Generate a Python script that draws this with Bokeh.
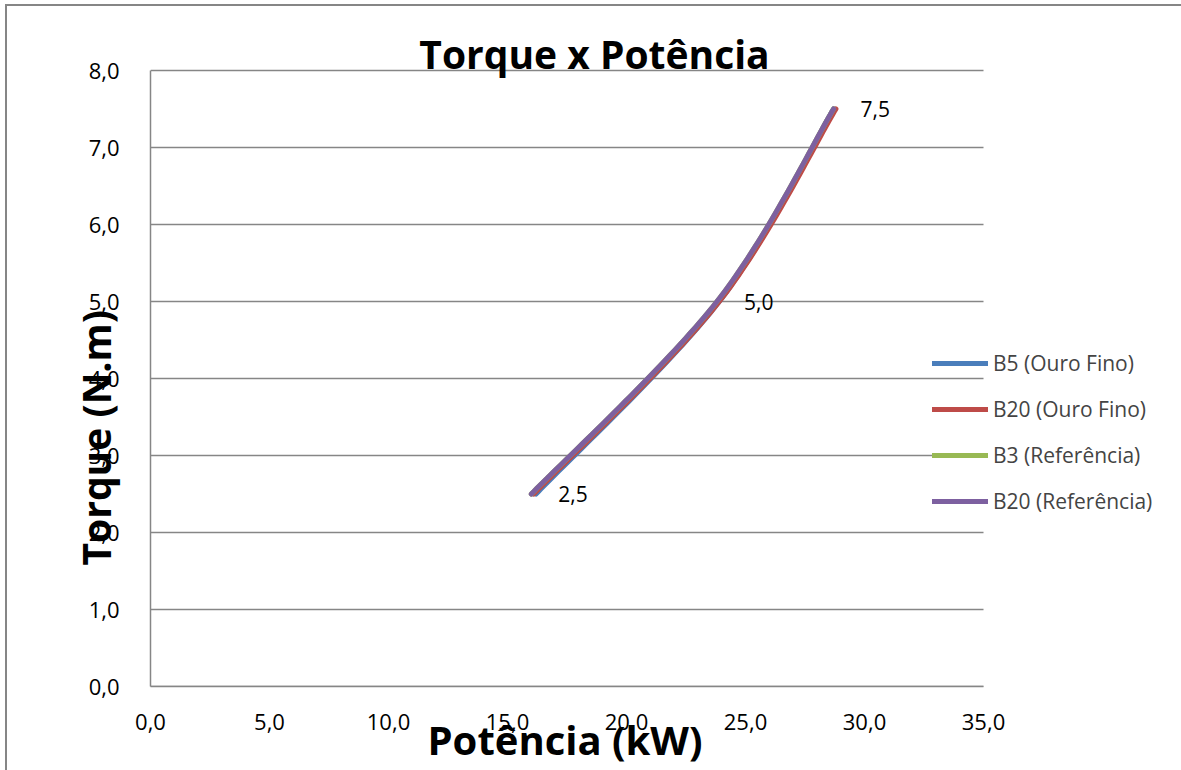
import numpy as np
from bokeh.plotting import figure
from bokeh.models import (ColumnDataSource, Legend, LegendItem, Label, Title,
                          CustomJSTickFormatter, FixedTicker)
from bokeh.core.properties import value
from bokeh.embed import file_html
from bokeh.resources import INLINE

# ---- data ----
torque = [2.5, 5.0, 7.5]
b5_ouro_fino = [16.2, 23.9, 28.7]
b20_ouro_fino = [16.1, 23.9, 28.8]
b3_referencia = [16.0, 23.8, 28.7]
b20_referencia = [16.0, 23.8, 28.7]
series_names = ["B5 (Ouro Fino)", "B20 (Ouro Fino)", "B3 (Referência)", "B20 (Referência)"]
series_colors = ["#4A7EBB", "#BE4B48", "#98B954", "#7D60A0"]
x_ticks = [0, 5, 10, 15, 20, 25, 30, 35]
y_ticks = [0, 1, 2, 3, 4, 5, 6, 7, 8]

FONT = "Open Sans"
GRAY = "#868686"

W, H = 1181, 770
LEFT, BOTTOM = 150, 84          # plot-area offsets in px
AREA_W, AREA_H = 833, 616       # plot area (0..35, 0..8) in px
frame_w, frame_h = W - LEFT, H - BOTTOM
x_end = x_ticks[-1] * frame_w / AREA_W
y_end = y_ticks[-1] * frame_h / AREA_H


def smooth(xs, ys, n=40):
    pts = np.column_stack([xs, ys]).astype(float)
    out = []
    m = len(pts)
    for i in range(m - 1):
        p0 = pts[i - 1] if i > 0 else pts[i]
        p1 = pts[i]
        p2 = pts[i + 1]
        p3 = pts[i + 2] if i + 2 < m else pts[i + 1]
        c1 = p1 + (p2 - p0) / 6.0
        c2 = p2 - (p3 - p1) / 6.0
        t = np.linspace(0, 1, n)[:, None]
        seg = ((1 - t) ** 3) * p1 + 3 * ((1 - t) ** 2) * t * c1 + 3 * (1 - t) * t ** 2 * c2 + t ** 3 * p2
        if i > 0:
            seg = seg[1:]
        out.append(seg)
    arr = np.vstack(out)
    return arr[:, 0], arr[:, 1]


p = figure(width=W, height=H, x_range=(0, x_end), y_range=(0, y_end),
           output_backend="svg", toolbar_location=None,
           min_border_left=LEFT, min_border_right=0, min_border_top=0, min_border_bottom=BOTTOM)
p.outline_line_color = None
p.background_fill_alpha = 0
p.border_fill_alpha = 0
p.styles = {"box-shadow": f"inset 5px 4px 0 0 white, inset 7px 6px 0 0 {GRAY}"}

p.xgrid.grid_line_color = None
p.ygrid.grid_line_color = None

# horizontal gridlines limited to the plot area
p.segment(x0=[x_ticks[0]] * len(y_ticks), x1=[x_ticks[-1]] * len(y_ticks),
          y0=y_ticks, y1=y_ticks, line_color=GRAY, line_width=1.3)

p.xaxis.ticker = FixedTicker(ticks=x_ticks)
p.yaxis.ticker = FixedTicker(ticks=y_ticks)
p.xaxis.bounds = (x_ticks[0], x_ticks[-1])
p.yaxis.bounds = (y_ticks[0], y_ticks[-1])
fmt = CustomJSTickFormatter(code="return tick.toFixed(1).replace('.', ',');")
for ax in (p.xaxis, p.yaxis):
    ax.formatter = fmt
    ax.major_tick_line_color = None
    ax.minor_tick_line_color = None
    ax.axis_line_color = GRAY
    ax.axis_line_width = 1.5
    ax.major_label_text_font = FONT
    ax.major_label_text_font_size = "22px"
    ax.major_label_text_color = "black"
p.xaxis.major_label_standoff = 21
p.yaxis.major_label_standoff = 25

xtitle = Title(text="Potência (kW)", align="left", offset=277, standoff=-46,
               text_font=FONT, text_font_style="bold", text_font_size="40px",
               text_color="black")
p.add_layout(xtitle, "below")

ytitle = Title(text="Torque (N.m)", align="left", offset=121, standoff=-72,
               text_font=FONT, text_font_style="bold", text_font_size="39px",
               text_color="black")
p.add_layout(ytitle, "left")

datasets = [b5_ouro_fino, b20_ouro_fino, b3_referencia, b20_referencia]
items = []
for name, col, xs in zip(series_names, series_colors, datasets):
    sx, sy = smooth(xs, torque)
    r = p.line(sx, sy, line_color=col, line_width=5, line_cap="round", line_join="round")
    items.append(LegendItem(label=name, renderers=[r]))

src = ColumnDataSource(dict(x=b20_referencia, y=torque,
                            t=[f"{v:.1f}".replace('.', ',') for v in torque]))
p.text(x="x", y="y", text="t", source=src, x_offset=27, text_align="left",
       text_baseline="middle", text_font=value(FONT), text_font_size="21px", text_color="black")

legend = Legend(items=items, location=(782, 170), margin=0, padding=0,
                glyph_width=56, glyph_height=30, label_height=30, spacing=16,
                label_standoff=5, label_text_font=FONT, label_text_font_size="21px",
                label_text_baseline="middle",
                border_line_color=None, background_fill_alpha=0)
p.add_layout(legend, "center")

title_x = (594 - LEFT) * x_ticks[-1] / AREA_W
title_y = (H - BOTTOM - 53) * y_ticks[-1] / AREA_H
p.add_layout(Label(x=title_x, y=title_y, text="Torque x Potência", text_align="center",
                   text_baseline="alphabetic", text_font=FONT, text_font_style="bold",
                   text_font_size="39px", text_color="black"))

open("out.html", "w").write(file_html(p, INLINE))
